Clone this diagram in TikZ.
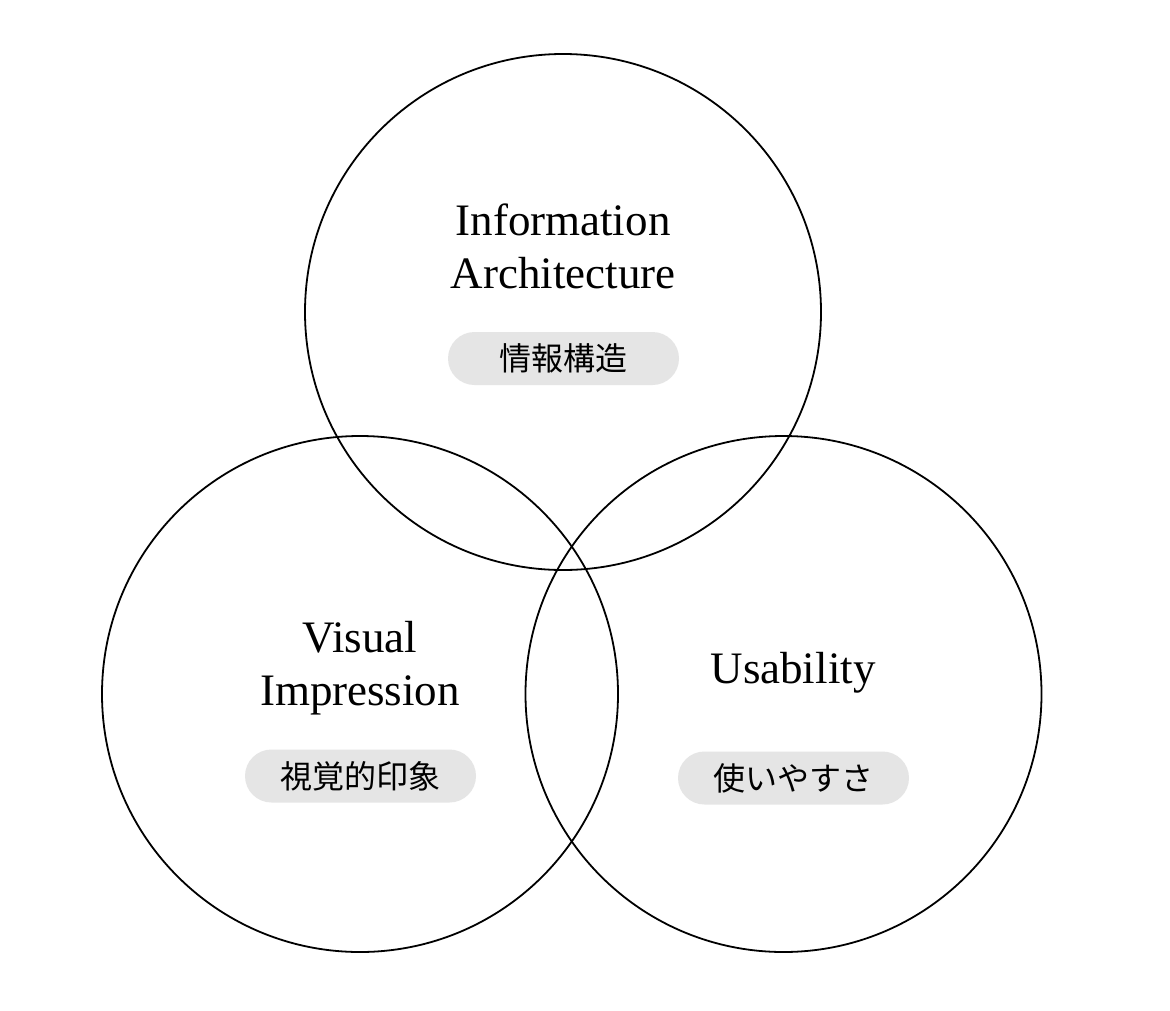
\documentclass[tikz,border=0pt]{standalone}
\usepackage{fontspec}
\setmainfont{Liberation Serif}
\newfontfamily\cjk{Noto Sans CJK JP}
\begin{document}
\begin{tikzpicture}[x=1pt,y=-1pt,
  ring/.style={draw=black,line width=1.8pt},
  title/.style={font=\fontsize{45}{53}\selectfont,align=center,inner sep=0pt},
  pill/.style={fill=black!10,rounded corners=26.5pt,minimum width=231pt,minimum height=53pt,inner sep=0pt,font=\cjk\fontsize{32}{34}\selectfont}]
\useasboundingbox (0,0) rectangle (1170,1010);
\fill[white] (0,0) rectangle (1170,1010);
\node[ring,circle,minimum size=516pt,inner sep=0pt] (top) at (563,312) {};
\node[ring,circle,minimum size=516pt,inner sep=0pt] (left) at (360,694) {};
\node[ring,circle,minimum size=516pt,inner sep=0pt] (right) at (783.5,694) {};
\node[title,anchor=base] (ia) at (563,288) {Information\\Architecture};
\node[pill] (iaj) at (563.5,358.5) {情報構造};
\node[title,anchor=base] (vi) at (360,705) {Visual\\Impression};
\node[pill] (vij) at (360.5,776) {視覚的印象};
\node[title,anchor=base] (us) at (793,683) {Usability};
\node[pill] (usj) at (793.5,778) {使いやすさ};
\end{tikzpicture}
\end{document}
